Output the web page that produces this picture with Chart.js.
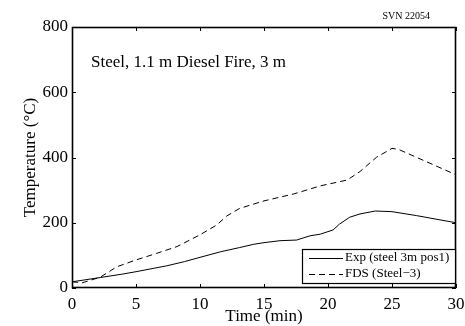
<!DOCTYPE html>
<html>
<head>
<meta charset="utf-8">
<script src="https://cdn.jsdelivr.net/npm/chart.js@4/dist/chart.umd.min.js"></script>
<style>
  html, body { margin: 0; padding: 0; background: #fff; }
  #chart { display: block; }
</style>
</head>
<body>
<canvas id="chart" width="465" height="326"></canvas>
<script>
// Data
const expTime = [0, 2.2, 4.0, 5.0, 7.4, 8.8, 10, 11.6, 13.1, 14.2, 15, 16.25, 17.55, 18.6, 19.4, 20.4, 20.9, 21.7, 22.5, 23.7, 25, 26.9, 30];
const expTemp = [19, 32, 43, 50, 68, 81, 94, 111, 124, 134, 139, 145, 147, 160, 165, 178, 196, 217, 227, 236, 234, 222, 200];

const fdsTime = [0, 0.8, 2.2, 3.5, 5.0, 6.6, 8.2, 10, 11.3, 12.1, 13.1, 15, 17.3, 19.4, 21.5, 22.5, 23.8, 25.0, 25.5, 27.7, 30];
const fdsTemp = [19, 16, 33, 65, 86, 106, 127, 163, 193, 221, 244, 267, 288, 313, 331, 357, 401, 428, 425, 387, 347];

const xTicks = [0, 5, 10, 15, 20, 25, 30];
const yTicks = [0, 200, 400, 600, 800];

const titleText = "Steel, 1.1 m Diesel Fire, 3 m";
const stampText = "SVN 22054";

const serif = "'Liberation Serif', 'Times New Roman', serif";

function toPoints(xs, ys) {
  return xs.map((x, i) => ({ x: x, y: ys[i] }));
}

// Frame, inward ticks, annotation text and boxed legend
const framePlugin = {
  id: "frame",
  afterDraw(chart) {
    const ctx = chart.ctx;
    const a = chart.chartArea;
    const xs = chart.scales.x;
    const ys = chart.scales.y;
    const tick = 4;

    ctx.save();
    ctx.strokeStyle = "#000";
    ctx.lineWidth = 1.6;
    ctx.strokeRect(a.left + 0.5, a.top + 0.5, a.right - a.left - 1, a.bottom - a.top - 1);

    ctx.lineWidth = 1;
    ctx.beginPath();
    xTicks.forEach(v => {
      const px = Math.round(xs.getPixelForValue(v)) + 0.5;
      ctx.moveTo(px, a.bottom);
      ctx.lineTo(px, a.bottom - tick);
      ctx.moveTo(px, a.top);
      ctx.lineTo(px, a.top + tick);
    });
    yTicks.forEach(v => {
      const py = Math.round(ys.getPixelForValue(v)) + 0.5;
      ctx.moveTo(a.left, py);
      ctx.lineTo(a.left + tick, py);
      ctx.moveTo(a.right, py);
      ctx.lineTo(a.right - tick, py);
    });
    ctx.stroke();

    // annotation
    ctx.fillStyle = "#000";
    ctx.font = "17px " + serif;
    ctx.textBaseline = "middle";
    ctx.textAlign = "left";
    ctx.fillText(titleText, a.left + 19, 63);

    ctx.font = "10px " + serif;
    ctx.textAlign = "right";
    ctx.fillText(stampText, 430, 16);

    // legend
    const lx = 302, ly = 249, lw = a.right - lx, lh = 35;
    ctx.fillStyle = "#fff";
    ctx.fillRect(lx, ly, lw, lh);
    ctx.strokeStyle = "#000";
    ctx.lineWidth = 1.2;
    ctx.strokeRect(lx + 0.5, ly + 0.5, lw - 1, lh - 1);
    ctx.lineWidth = 1;
    ctx.font = "13px " + serif;
    ctx.textAlign = "left";
    chart.data.datasets.forEach((ds, i) => {
      const rowY = 258 + i * 16;
      ctx.beginPath();
      ctx.setLineDash(ds.borderDash || []);
      ctx.moveTo(309, rowY + 0.5);
      ctx.lineTo(343, rowY + 0.5);
      ctx.stroke();
      ctx.setLineDash([]);
      ctx.fillStyle = "#000";
      ctx.fillText(ds.label, 345, rowY);
    });
    ctx.restore();
  }
};

new Chart(document.getElementById("chart"), {
  type: "line",
  data: {
    datasets: [
      {
        label: "Exp (steel 3m pos1)",
        data: toPoints(expTime, expTemp),
        borderColor: "#000",
        borderWidth: 1,
        pointRadius: 0,
        tension: 0
      },
      {
        label: "FDS (Steel\u22123)",
        data: toPoints(fdsTime, fdsTemp),
        borderColor: "#000",
        borderWidth: 1,
        borderDash: [6, 4],
        pointRadius: 0,
        tension: 0
      }
    ]
  },
  options: {
    responsive: false,
    animation: false,
    layout: { padding: { left: 0, top: 27, right: 9, bottom: 0 } },
    plugins: {
      legend: { display: false },
      tooltip: { enabled: false }
    },
    scales: {
      x: {
        type: "linear",
        min: 0,
        max: 30,
        afterBuildTicks: s => { s.ticks = xTicks.map(v => ({ value: v })); },
        afterFit: s => { s.height = 38; },
        grid: { display: false },
        border: { display: false },
        ticks: { color: "#000", padding: -2, maxRotation: 0, font: { family: serif, size: 17 } },
        title: {
          display: true,
          text: "Time (min)",
          color: "#000",
          padding: { top: 0, bottom: -1 },
          font: { family: serif, size: 17 }
        }
      },
      y: {
        type: "linear",
        min: 0,
        max: 800,
        afterBuildTicks: s => { s.ticks = yTicks.map(v => ({ value: v })); },
        afterFit: s => { s.width = 72; },
        grid: { display: false },
        border: { display: false },
        ticks: { color: "#000", padding: -4, font: { family: serif, size: 17 } },
        title: {
          display: true,
          text: "Temperature (\u00B0C)",
          color: "#000",
          padding: { top: 20, bottom: 0 },
          font: { family: serif, size: 17 }
        }
      }
    }
  },
  plugins: [framePlugin]
});
</script>
</body>
</html>
